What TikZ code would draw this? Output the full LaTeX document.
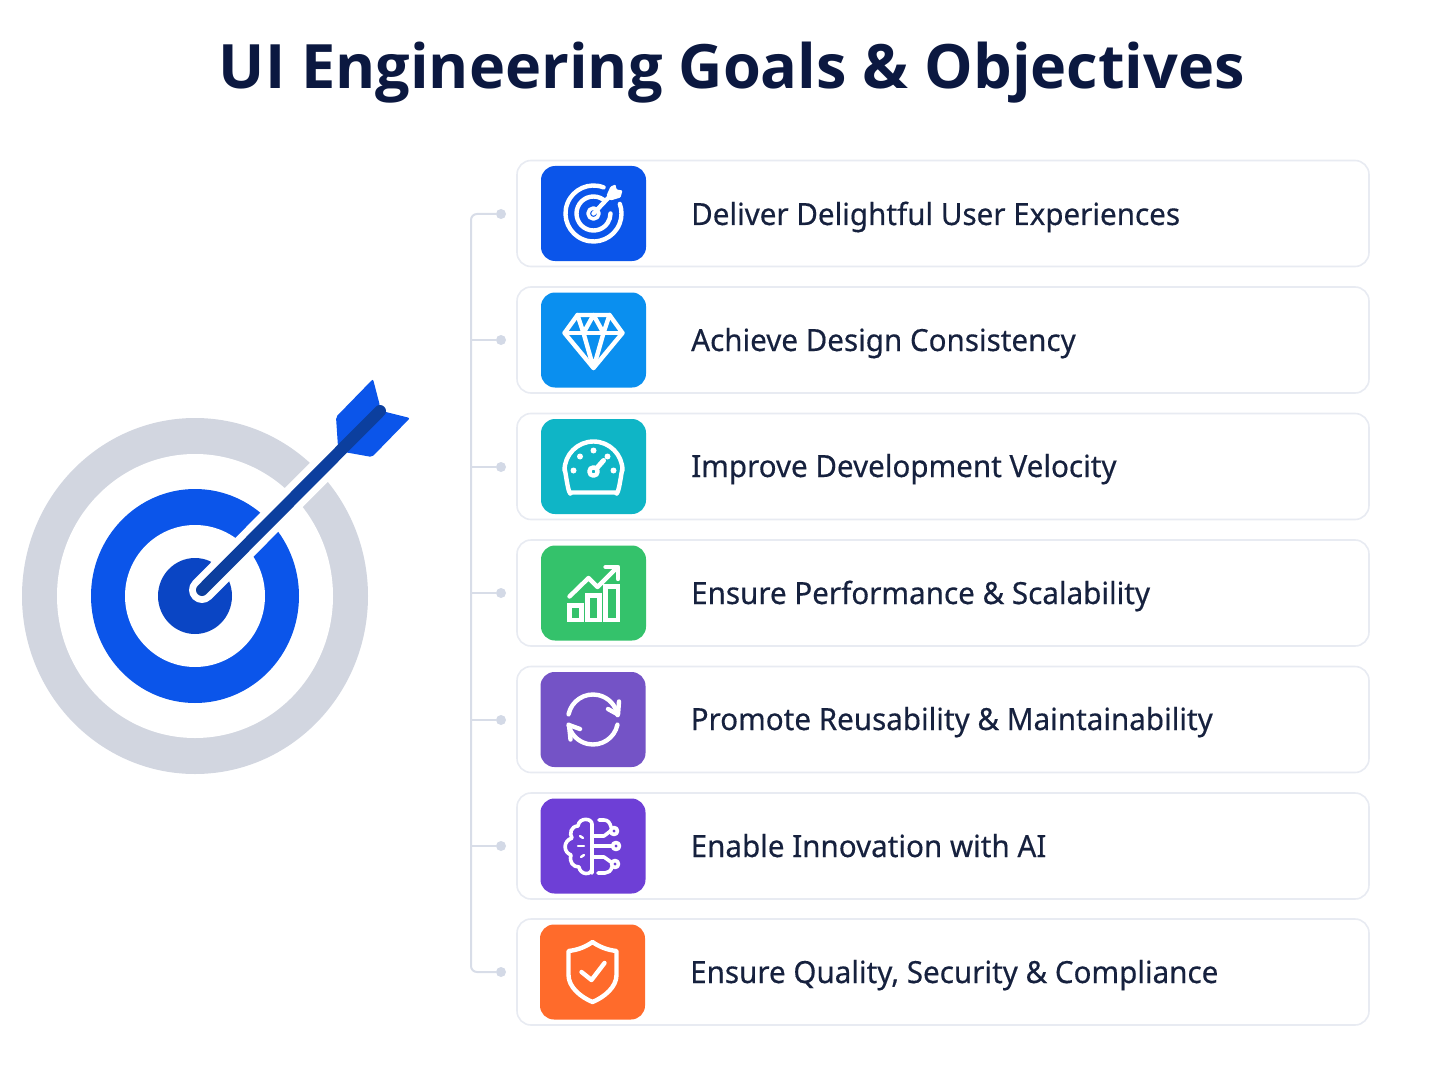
\documentclass[tikz,border=0pt]{standalone}
\usepackage{fontspec}
\setmainfont{Noto Sans}
\newfontfamily\titlefont{Open Sans}
\newfontfamily\rowfont[FakeBold=0.35, FakeStretch=0.97]{Noto Sans}
\definecolor{titleink}{HTML}{0B1840}
\definecolor{rowink}{HTML}{16213E}
\definecolor{cardline}{HTML}{E8EBF2}
\definecolor{linkline}{HTML}{D8DDE8}
\definecolor{linkdot}{HTML}{D3D9E6}
\definecolor{ringgray}{HTML}{D2D6E0}
\definecolor{ringblue}{HTML}{0B55EA}
\definecolor{bullblue}{HTML}{0A45C4}
\definecolor{shaftblue}{HTML}{0C3F9E}
\definecolor{tileblue}{HTML}{0B55EA}
\definecolor{tilesky}{HTML}{0A8FEF}
\definecolor{tileteal}{HTML}{0FB5C6}
\definecolor{tilegreen}{HTML}{34C26B}
\definecolor{tileviolet}{HTML}{7453C6}
\definecolor{tilepurple}{HTML}{6E3FD6}
\definecolor{tileorange}{HTML}{FF6B2B}
\tikzset{
	card/.style={draw=cardline, line width=1.6pt, fill=white, rounded corners=14pt, minimum width=852pt, minimum height=106pt, inner sep=0pt},
	tile/.style={rounded corners=14pt, minimum width=105pt, minimum height=95pt, inner sep=0pt},
	rowtext/.style={anchor=base west, inner sep=0pt, text=rowink, font=\rowfont\fontsize{30.5}{36}\selectfont},
	linkdotted/.style={circle, fill=linkdot, minimum size=10pt, inner sep=0pt},
	link/.style={linkline, line width=2pt, rounded corners=6pt},
	icon/.style={white, line width=4.4pt, line cap=round, line join=round},
}
\begin{document}
\begin{tikzpicture}[x=1pt, y=-1pt]
	\useasboundingbox (0, 0) rectangle (1448, 1086);

	\node[anchor=base, inner sep=0pt, text=titleink, font=\titlefont\bfseries\fontsize{61.2}{70}\selectfont] (title) at (732, 89) {UI Engineering Goals \& Objectives};

	\fill[ringgray]		(195, 596) ellipse [x radius=173, y radius=178];
	\fill[white]		(195, 596) ellipse [x radius=138, y radius=142];
	\fill[ringblue]		(195, 596) ellipse [x radius=104, y radius=107];
	\fill[white]		(195, 596) ellipse [x radius=70, y radius=71];
	\fill[bullblue]		(195, 596) ellipse [x radius=37, y radius=38];
	\draw[white, line width=26pt, line cap=round]	(202, 590) to (345, 446);
	\fill[ringblue, rounded corners=2pt]	(373, 379) to (380, 406) to (338, 447) to (336, 417) -- cycle;
	\fill[ringblue, rounded corners=2pt]	(410, 418) to (382, 411) to (344, 452) to (372, 457) -- cycle;
	\draw[shaftblue, line width=12pt, line cap=round]	(202, 590) to (380, 411);

	\node[card] (card1) at (943, 213.5) {};
	\node[card] (card2) at (943, 340) {};
	\node[card] (card3) at (943, 466.5) {};
	\node[card] (card4) at (943, 593) {};
	\node[card] (card5) at (943, 719.5) {};
	\node[card] (card6) at (943, 846) {};
	\node[card] (card7) at (943, 972) {};

	\node[tile, fill=tileblue]		(tile1) at (593.5, 213.5) {};
	\node[tile, fill=tilesky]		(tile2) at (593.5, 340) {};
	\node[tile, fill=tileteal]		(tile3) at (593.5, 466.5) {};
	\node[tile, fill=tilegreen]		(tile4) at (593.5, 593) {};
	\node[tile, fill=tileviolet]	(tile5) at (593, 719.5) {};
	\node[tile, fill=tilepurple]	(tile6) at (593, 846) {};
	\node[tile, fill=tileorange]	(tile7) at (592.5, 972) {};

	\node[rowtext] (text1) at (691, 225) {Deliver Delightful User Experiences};
	\node[rowtext] (text2) at (691, 351) {Achieve Design Consistency};
	\node[rowtext] (text3) at (691, 477) {Improve Development Velocity};
	\node[rowtext] (text4) at (691, 604) {Ensure Performance \& Scalability};
	\node[rowtext] (text5) at (690.5, 730) {Promote Reusability \& Maintainability};
	\node[rowtext] (text6) at (690.5, 857) {Enable Innovation with AI};
	\node[rowtext] (text7) at (690, 983) {Ensure Quality, Security \& Compliance};

	\node[linkdotted] (dot1) at (501, 214) {};
	\node[linkdotted] (dot2) at (501, 340) {};
	\node[linkdotted] (dot3) at (501, 467) {};
	\node[linkdotted] (dot4) at (501, 593) {};
	\node[linkdotted] (dot5) at (501, 720) {};
	\node[linkdotted] (dot6) at (501, 846) {};
	\node[linkdotted] (dot7) at (501, 972) {};

	\coordinate (trunktop) at (471, 214);
	\coordinate (trunk2) at (471, 340);
	\coordinate (trunk3) at (471, 467);
	\coordinate (trunk4) at (471, 593);
	\coordinate (trunk5) at (471, 720);
	\coordinate (trunk6) at (471, 846);
	\coordinate (trunkbottom) at (471, 972);

	\draw[link]	(dot1) to (trunktop) -- (trunkbottom) -- (dot7);
	\draw[link]	(dot2) to (trunk2);
	\draw[link]	(dot3) to (trunk3);
	\draw[link]	(dot4) to (trunk4);
	\draw[link]	(dot5) to (trunk5);
	\draw[link]	(dot6) to (trunk6);

	\begin{scope}[shift={(tile1)}, icon]
		\draw	(-69:28) arc (-69:-380:28);
		\draw	(-55:17) arc (-55:-360:17);
		\draw[line width=3.6pt]	(0, 0) circle (5.5);
		\draw	(0, 0) to (18, -19);
		\fill[white, rounded corners=1pt]	(17, -27) to (22, -29) to (23, -24) to (29, -23) to (27, -16) to (17, -13) to (13, -18) -- cycle;
	\end{scope}

	\begin{scope}[shift={(tile2)}, icon]
		\draw	(-16, -25) to (16, -25) to (29, -7) to (0, 28) to (-29, -7) -- cycle;
		\draw	(-29, -7) to (29, -7);
		\draw	(-16, -25) to (-10, -7) to (0, -25) to (10, -7) to (16, -25);
		\draw	(-10, -7) to (0, 28) to (10, -7);
	\end{scope}

	\begin{scope}[shift={(tile3)}, icon]
		\draw	(-22, 26) to[out=-110, in=90] (-29, 4) arc (180:360:29) to[out=90, in=-70] (22, 26) -- cycle;
		\fill[white]	(-20, 4) circle (3)
						(-13.5, -10) circle (3)
						(0, -16) circle (3)
						(14, -10) circle (3)
						(20, 4) circle (3);
		\draw	(0, 5) circle (4.2);
		\draw[line width=5pt]	(3, 2) to (10, -6);
	\end{scope}

	\begin{scope}[shift={(tile4)}, icon, line cap=butt, line join=miter]
		\draw	(-24, 12.5) rectangle (-12, 27);
		\draw	(-6, 2.5) rectangle (6, 27);
		\draw	(12, -6.5) rectangle (24.5, 27);
		\draw[line cap=round, line join=round]	(-24, 3.5) to (-5, -15) to (4, -6) to (23, -25);
		\draw[line cap=round, line join=round]	(12, -26) to (24.5, -26) to (24.5, -14);
	\end{scope}

	\begin{scope}[shift={(tile5)}, icon]
		\draw	(-168:25) arc (-168:-10:25);
		\draw	(15, -10.5) to (25, -5) to (26, -18);
		\draw	(12:25) arc (12:168:25);
		\draw	(-13, 9.5) to (-24, 5.5) to (-22.5, 20);
	\end{scope}

	\begin{scope}[shift={(tile6)}, icon, line width=3.6pt]
		\draw	(-1, 27) to (-1, -22) .. controls (-1, -28) and (-14, -29) .. (-15, -20) .. controls (-22, -20) and (-24, -12) .. (-21, -8) .. controls (-30, -5) and (-30, 6) .. (-22, 9) .. controls (-24, 16) and (-20, 21) .. (-14, 21) .. controls (-13, 29) and (-1, 30) .. (-1, 22);
		\draw	(6, -26) to (11, -26) .. controls (15, -26) and (17, -23) .. (18, -19);
		\draw	(1, -10) to (11, -10) to (17.5, -15);
		\draw	(1, 0) to (19.5, 0);
		\draw	(1, 11) to (11, 11) to (18, 16);
		\draw	(5, 27) to (12, 27) .. controls (15, 27) and (18, 25) .. (19, 21);
		\draw	(21, -15) circle (3.5);
		\draw	(23, 0) circle (3.5);
		\draw	(22, 18) circle (3.5);
		\draw[line width=2.4pt]	(-13, -10) to (-10, -8);
		\draw[line width=2.4pt]	(-15, 0) to (-9, 0);
		\draw[line width=2.4pt]	(-12, 11) to (-9, 9);
	\end{scope}

	\begin{scope}[shift={(tile7)}, icon]
		\draw	(0, -30) .. controls (-7, -25) and (-15, -22) .. (-24, -21) to (-24, 3) .. controls (-24, 15) and (-12, 25) .. (0, 30) .. controls (12, 25) and (24, 15) .. (24, 3) to (24, -21) .. controls (15, -22) and (7, -25) .. (0, -30) -- cycle;
		\draw	(-11, 0) to (-1, 8) to (12, -9);
	\end{scope}
\end{tikzpicture}
\end{document}
